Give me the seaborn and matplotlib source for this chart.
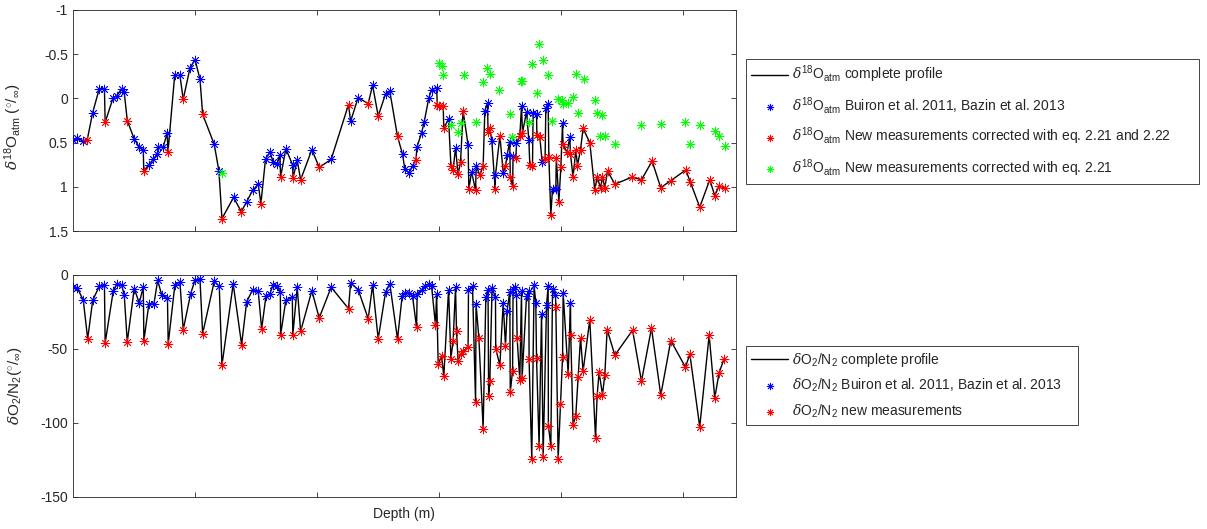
import matplotlib
matplotlib.use("Agg")
import matplotlib.pyplot as plt
import seaborn as sns
import pandas as pd

# delta18O atm, values (depth in m, permil, axis reversed)
d18o_blue_depth = [600.5, 603.8, 608.2, 616.4, 621.8, 626.0, 633.2, 636.0, 640.1, 642.2, 650.4, 654.5,
                   657.8, 662.4, 666.0, 669.2, 670.0, 674.1, 677.4, 683.5, 687.8, 696.0, 700.1, 704.2,
                   715.9, 719.7, 731.7, 742.4, 747.3, 751.9, 757.9, 761.5, 764.2, 767.4, 769.6, 774.5,
                   780.0, 783.8, 795.8, 811.6, 827.5, 833.7, 845.5, 856.1, 859.6, 870.0, 871.9, 875.4,
                   878.2, 881.8, 885.6, 887.7, 891.6, 893.8, 897.9, 907.7, 913.4, 923.7, 926.5, 930.3,
                   937.4, 939.6, 943.1, 946.1, 952.4, 955.6, 957.8, 960.5, 963.3, 967.4, 971.5, 973.4,
                   976.9, 979.7, 984.3, 987.3, 989.2, 992.8, 995.5, 1001.0, 1006.9]
d18o_blue_val = [0.47, 0.45, 0.48, 0.16, -0.11, -0.11, -0.01, -0.03, -0.11, -0.07, 0.46, 0.55,
                 0.58, 0.75, 0.69, 0.63, 0.55, 0.55, 0.39, -0.26, -0.26, -0.34, -0.44, -0.22,
                 0.52, 0.82, 1.12, 1.17, 1.04, 0.97, 0.68, 0.61, 0.72, 0.74, 0.64, 0.57,
                 0.75, 0.70, 0.58, 0.69, 0.26, -0.01, -0.15, -0.05, -0.08, 0.63, 0.80, 0.84,
                 0.76, 0.55, 0.39, 0.27, -0.01, -0.10, -0.12, 0.23, 0.56, 0.53, 0.83, 0.76,
                 0.14, 0.05, 0.48, 0.87, 0.84, 0.64, 0.49, 0.65, 0.51, 0.09, 0.15, 0.47,
                 0.17, 0.18, 0.72, 0.11, 0.06, 1.02, 1.02, 0.28, 0.44]

d18o_red_depth = [611.9, 626.6, 644.7, 658.2, 678.0, 690.5, 706.4, 722.2, 738.0, 754.1, 770.2, 780.4,
                  786.6, 801.8, 825.8, 841.9, 850.1, 865.9, 881.0, 898.5, 900.0, 903.3, 903.8, 909.6,
                  911.4, 915.5, 917.5, 919.6, 924.3, 929.8, 933.3, 936.0, 940.0, 941.5, 945.8, 949.7,
                  954.3, 958.2, 960.1, 962.8, 966.0, 968.2, 974.2, 976.4, 980.0, 982.4, 986.7, 989.8,
                  991.4, 995.9, 998.0, 999.6, 1001.3, 1004.7, 1007.5, 1009.6, 1011.9, 1013.2, 1015.7,
                  1017.8, 1023.3, 1027.4, 1029.3, 1032.1, 1033.7, 1035.6, 1037.8, 1043.8, 1057.9,
                  1065.6, 1074.3, 1081.4, 1089.6, 1101.9, 1105.7, 1113.3, 1121.5, 1125.6, 1129.1, 1133.8]
d18o_red_val = [0.47, 0.27, 0.25, 0.82, 0.61, 0.01, 0.18, 1.36, 1.28, 1.19, 0.89, 0.90,
                0.92, 0.78, 0.07, 0.06, 0.20, 0.43, 0.70, 0.07, 0.09, 0.09, 0.34, 0.76,
                0.81, 0.86, 0.72, 0.14, 1.03, 1.04, 0.87, 0.76, 0.38, 0.34, 1.02, 0.42,
                0.77, 0.89, 0.99, 0.67, 0.43, 0.39, 0.75, 0.76, 0.41, 0.44, 0.69, 0.66,
                1.32, 0.67, 1.17, 0.78, 0.52, 0.61, 0.63, 0.89, 0.58, 0.76, 0.58,
                0.34, 0.50, 1.04, 0.89, 1.01, 0.89, 1.01, 0.82, 0.97, 0.89,
                0.92, 0.71, 1.01, 0.93, 0.81, 0.95, 1.23, 0.92, 1.10, 0.99, 1.01]

d18o_green_depth = [721.9, 900.0, 902.0, 903.3, 909.3, 915.5, 918.0, 920.2, 930.0, 936.0, 939.0, 941.5,
                    949.1, 958.0, 959.9, 966.6, 968.2, 973.4, 975.7, 979.7, 981.8, 985.3, 989.2, 992.0,
                    997.4, 1000.2, 1001.6, 1005.5, 1009.4, 1011.9, 1013.7, 1018.2, 1027.8, 1029.0,
                    1033.7, 1031.5, 1035.6, 1043.8, 1065.6, 1081.4, 1101.5, 1105.5, 1113.9, 1125.6,
                    1129.1, 1133.8]
d18o_green_val = [0.84, -0.40, -0.37, -0.26, 0.30, 0.38, 0.28, -0.27, 0.27, -0.18, -0.34, -0.28,
                  -0.09, 0.18, 0.44, -0.20, -0.20, 0.27, -0.39, -0.06, -0.61, -0.43, -0.26, 0.26,
                  0.01, 0.02, 0.06, 0.05, -0.02, -0.28, 0.16, -0.22, 0.02, 0.16,
                  0.19, 0.43, 0.43, 0.52, 0.30, 0.29, 0.27, 0.52, 0.30, 0.37,
                  0.42, 0.54]

# delta O2/N2
o2n2_blue_depth = [600.5, 603.8, 608.7, 616.4, 621.8, 626.0, 633.2, 636.4, 640.1, 642.2, 650.4, 654.5,
                   657.8, 662.4, 666.5, 669.6, 672.8, 677.6, 683.7, 687.8, 696.6, 700.1, 704.2, 715.9,
                   720.0, 731.4, 742.4, 747.3, 751.9, 758.2, 761.5, 764.2, 767.4, 770.0, 774.5, 779.8,
                   783.8, 795.8, 811.6, 827.5, 833.7, 845.5, 856.1, 859.6, 869.7, 871.9, 875.2, 878.2,
                   882.0, 885.6, 888.3, 891.6, 893.8, 897.9, 907.7, 913.4, 924.0, 927.3, 930.2, 938.2,
                   940.0, 943.3, 946.1, 952.4, 955.6, 957.8, 960.5, 962.0, 963.3, 967.4, 971.5, 973.4,
                   977.7, 979.1, 983.8, 987.9, 989.2, 992.8, 995.2, 1001.5, 1007.5]
o2n2_blue_val = [-8.0, -8.8, -17.1, -17.1, -7.7, -6.5, -11.0, -5.9, -7.0, -13.3, -9.2, -18.9,
                 -8.3, -19.6, -19.6, -3.6, -13.3, -15.6, -6.5, -4.7, -12.6, -3.6, -2.7, -4.3,
                 -7.7, -6.1, -18.3, -9.9, -11.0, -14.4, -12.6, -6.5, -7.7, -11.7, -17.1, -15.1,
                 -8.3, -10.6, -8.3, -5.4, -9.9, -7.0, -11.7, -5.9, -14.4, -12.2, -12.2, -14.4,
                 -12.6, -9.9, -7.6, -6.1, -7.6, -12.9, -9.9, -8.3, -9.9, -7.6, -19.6, -15.1,
                 -9.9, -8.8, -15.1, -18.9, -24.2, -11.7, -9.3, -8.3, -13.7, -10.6, -14.4, -10.6,
                 -7.0, -18.9, -26.4, -20.1, -7.6, -9.3, -13.3, -12.2, -18.9]

o2n2_red_depth = [612.3, 626.6, 644.7, 658.3, 678.2, 690.5, 706.4, 722.2, 738.3, 754.7, 770.2, 780.2,
                  786.6, 801.8, 825.8, 841.9, 850.1, 865.9, 881.5, 897.0, 899.2, 902.0, 903.8, 909.6,
                  911.4, 914.2, 915.5, 917.5, 919.6, 923.7, 929.8, 932.5, 936.0, 940.5, 941.5, 946.3,
                  949.7, 954.3, 958.2, 960.1, 963.8, 966.0, 967.9, 973.6, 975.8, 979.7, 981.8, 985.1,
                  989.4, 991.4, 995.5, 997.4, 999.3, 1001.0, 1005.6, 1007.7, 1009.6, 1011.8, 1013.7,
                  1015.7, 1017.8, 1023.3, 1028.0, 1029.3, 1030.9, 1033.7, 1035.6, 1037.5, 1043.8,
                  1058.3, 1065.6, 1073.8, 1081.4, 1089.6, 1101.6, 1105.2, 1113.3, 1121.0, 1125.6,
                  1129.1, 1133.2]
o2n2_red_val = [-43.3, -46.0, -45.3, -44.4, -46.7, -37.0, -39.7, -61.1, -47.1, -36.5, -40.8, -40.8,
                -38.1, -29.1, -22.8, -29.6, -43.3, -43.3, -35.4, -34.0, -60.2, -55.0, -68.5, -56.6,
                -44.9, -38.1, -58.0, -53.5, -51.6, -48.7, -86.1, -42.6, -104.0, -82.1, -71.5, -49.9,
                -61.1, -48.2, -79.4, -64.7, -42.6, -71.2, -69.7, -56.8, -124.3, -56.2, -115.5, -123.3,
                -102.0, -115.5, -21.7, -124.3, -87.3, -55.5, -67.0, -40.8, -101.3, -95.6, -69.2,
                -42.6, -65.2, -30.2, -110.3, -81.7, -65.8, -81.0, -67.5, -37.0, -54.3,
                -37.4, -71.9, -35.9, -81.4, -44.4, -62.4, -53.5, -102.8, -40.8, -83.2,
                -66.3, -56.8]

d18o_ticks = [-1, -0.5, 0, 0.5, 1, 1.5]
d18o_ticklabels = ["-1", "-0.5", "0", "0.5", "1", "1.5"]
o2n2_ticks = [-150, -100, -50, 0]
o2n2_ticklabels = ["-150", "-100", "-50", "0"]
depth_ticks = [700, 800, 900, 1000, 1100]

sns.set_style("white")
plt.rcParams.update({
    "font.family": ["Liberation Sans", "DejaVu Sans"],
    "font.size": 10,
    "axes.unicode_minus": False,
    "mathtext.fontset": "custom",
    "mathtext.rm": "Liberation Sans",
    "mathtext.it": "DejaVu Serif:italic",
    "mathtext.bf": "Liberation Sans:bold",
    "xtick.direction": "in",
    "ytick.direction": "in",
    "xtick.top": True,
    "ytick.right": True,
    "xtick.bottom": True,
    "ytick.left": True,
    "xtick.major.size": 3.5,
    "ytick.major.size": 3.5,
    "xtick.major.width": 0.6,
    "ytick.major.width": 0.6,
    "axes.edgecolor": "#262626",
    "axes.linewidth": 0.6,
    "text.color": "#262626",
    "xtick.color": "#262626",
    "ytick.color": "#262626",
})


def profile(blue_d, blue_v, red_d, red_v):
    df = pd.DataFrame({"depth": list(blue_d) + list(red_d),
                       "value": list(blue_v) + list(red_v)})
    return df.sort_values("depth").reset_index(drop=True)


fig = plt.figure(figsize=(12.07, 5.29), dpi=100)
ax1 = fig.add_axes([0.0602, 0.5633, 0.5496, 0.4178])
ax2 = fig.add_axes([0.0602, 0.0612, 0.5496, 0.4190])

star = (8, 2, 0)
mk = dict(marker=star, s=40, linewidth=0.6)

# top panel: d18O atm
top = profile(d18o_blue_depth, d18o_blue_val, d18o_red_depth, d18o_red_val)
sns.lineplot(data=top, x="depth", y="value", ax=ax1, color="black", linewidth=1.0,
             estimator=None, sort=True,
             label=r"$\delta^{18}$O$_{\mathrm{atm}}$ complete profile")
sns.scatterplot(x=d18o_blue_depth, y=d18o_blue_val, ax=ax1, color="blue", zorder=3,
                label=r"$\delta^{18}$O$_{\mathrm{atm}}$ Buiron et al. 2011, Bazin et al. 2013", **mk)
sns.scatterplot(x=d18o_red_depth, y=d18o_red_val, ax=ax1, color="red", zorder=3,
                label=r"$\delta^{18}$O$_{\mathrm{atm}}$ New measurements corrected with eq. 2.21 and 2.22", **mk)
sns.scatterplot(x=d18o_green_depth, y=d18o_green_val, ax=ax1, color="lime", zorder=3,
                label=r"$\delta^{18}$O$_{\mathrm{atm}}$ New measurements corrected with eq. 2.21", **mk)

ax1.set_xlim(600, 1143)
ax1.set_ylim(1.5, -1)
ax1.set_yticks(d18o_ticks, labels=d18o_ticklabels)
ax1.set_xticks(depth_ticks, labels=[])
ax1.set_xlabel("")
ax1.set_ylabel(r"$\delta^{18}$O$_{\mathrm{atm}}$ ($^{\circ}/_{\infty}$)", fontsize=11)
ax1.yaxis.set_label_coords(-0.074, 0.47)

# bottom panel: dO2/N2
bot = profile(o2n2_blue_depth, o2n2_blue_val, o2n2_red_depth, o2n2_red_val)
sns.lineplot(data=bot, x="depth", y="value", ax=ax2, color="black", linewidth=1.0,
             estimator=None, sort=True,
             label=r"$\delta$O$_2$/N$_2$ complete profile")
sns.scatterplot(x=o2n2_blue_depth, y=o2n2_blue_val, ax=ax2, color="blue", zorder=3,
                label=r"$\delta$O$_2$/N$_2$ Buiron et al. 2011, Bazin et al. 2013", **mk)
sns.scatterplot(x=o2n2_red_depth, y=o2n2_red_val, ax=ax2, color="red", zorder=3,
                label=r"$\delta$O$_2$/N$_2$ new measurements", **mk)

ax2.set_xlim(600, 1143)
ax2.set_ylim(-150, 0)
ax2.set_yticks(o2n2_ticks, labels=o2n2_ticklabels)
ax2.set_xticks(depth_ticks, labels=[])
ax2.set_xlabel("Depth (m)", fontsize=10)
ax2.set_ylabel(r"$\delta$O$_2$/N$_2$($^{\circ}/_{\infty}$)", fontsize=11)
ax2.yaxis.set_label_coords(-0.074, 0.5)

for ax in (ax1, ax2):
    ax.tick_params(labelsize=10)
    for s in ax.spines.values():
        s.set_visible(True)

legend_kw = dict(loc="upper left", mode="expand", borderaxespad=0, fancybox=False,
                 edgecolor="#262626", framealpha=1, fontsize=10, handlelength=2.7,
                 handletextpad=0.3, borderpad=0.35, scatterpoints=1, markerscale=0.75)

h1, l1 = ax1.get_legend_handles_labels()
ax1.get_legend().remove()
leg1 = fig.legend(h1, l1, bbox_to_anchor=(0.618, 0.6565, 0.375, 0.232),
                  labelspacing=0.7, **legend_kw)
leg1.get_frame().set_linewidth(0.6)

h2, l2 = ax2.get_legend_handles_labels()
ax2.get_legend().remove()
leg2 = fig.legend(h2, l2, bbox_to_anchor=(0.618, 0.193, 0.275, 0.1535),
                  labelspacing=0.6, **legend_kw)
leg2.get_frame().set_linewidth(0.6)

fig.savefig("out.png", dpi=100, facecolor="white")
